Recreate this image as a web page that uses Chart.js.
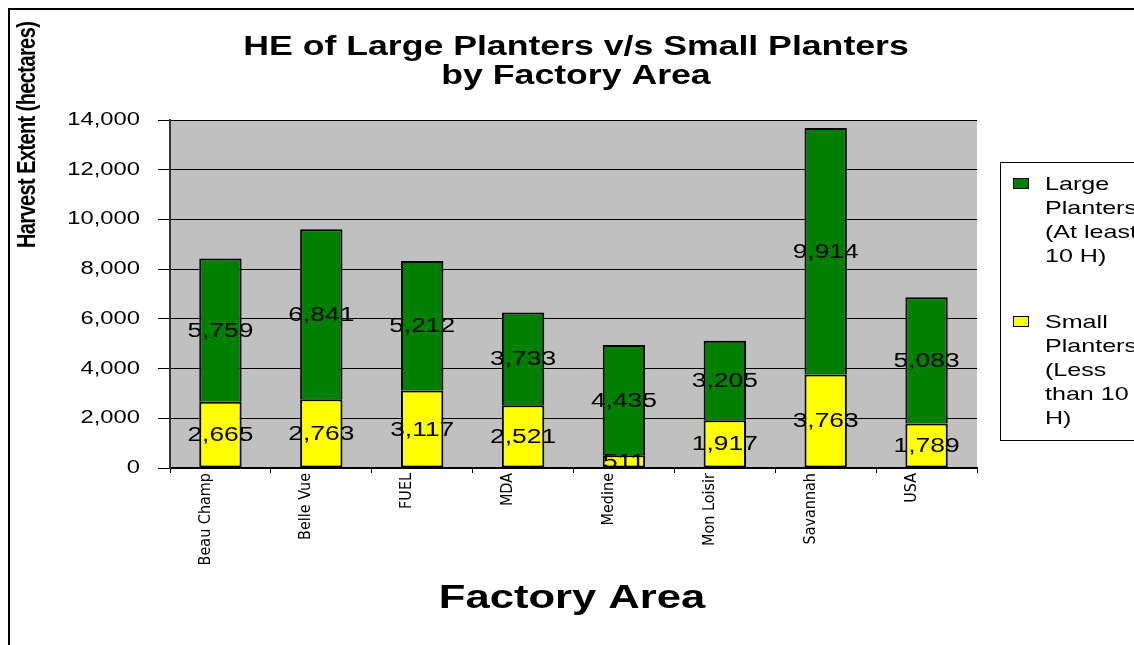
<!DOCTYPE html>
<html>
<head>
<meta charset="utf-8">
<script src="https://cdn.jsdelivr.net/npm/chart.js@4.4.1/dist/chart.umd.min.js"></script>
<style>
html, body { margin: 0; padding: 0; background: #fff; overflow: hidden; }
canvas { display: block; }
</style>
</head>
<body>
<canvas id="heChart" width="1134" height="645"></canvas>
<script>
// chart data
const factoryAreas = ['Beau Champ', 'Belle Vue', 'FUEL', 'MDA', 'Medine', 'Mon Loisir', 'Savannah', 'USA'];
const smallPlanters = [2665, 2763, 3117, 2521, 511, 1917, 3763, 1789];
const largePlanters = [5759, 6841, 5212, 3733, 4435, 3205, 9914, 5083];
const smallLegendLines = ['Small', 'Planters', '(Less', 'than 10', 'H)'];
const largeLegendLines = ['Large', 'Planters', '(At least', '10 H)'];
const titleLines = ['HE of Large Planters v/s Small Planters', 'by Factory Area'];
const xTitle = 'Factory Area';
const yTitle = 'Harvest Extent (hectares)';
const yMax = 14000;
const yStep = 2000;

const FONT = "'Liberation Sans', Arial, sans-serif";
// the original picture is stretched sideways, text included
const STRETCH = 1.32;

function drawStretched(ctx, text, x, y, align) {
    ctx.save();
    ctx.translate(x, y);
    ctx.scale(STRETCH, 1);
    ctx.textAlign = align;
    ctx.fillText(text, 0, 0);
    ctx.restore();
}

const decorations = {
    id: 'decorations',
    beforeDraw(chart) {
        const ctx = chart.ctx;
        const a = chart.chartArea;
        ctx.save();
        ctx.fillStyle = '#fff';
        ctx.fillRect(0, 0, chart.width, chart.height);
        ctx.fillStyle = '#C0C0C0';
        ctx.fillRect(a.left, a.top, a.right - a.left, a.bottom - a.top);
        // outer frame
        ctx.strokeStyle = '#000';
        ctx.lineWidth = 2;
        ctx.beginPath();
        ctx.moveTo(9, chart.height);
        ctx.lineTo(9, 9);
        ctx.lineTo(chart.width, 9);
        ctx.stroke();
        ctx.restore();
    },
    afterLayout(chart) {
        // stretch y tick labels around their right edge
        const ys = chart.scales.y;
        if (!ys._stretched) {
            const orig = ys.drawLabels;
            ys.drawLabels = function(area) {
                const anchor = this.right - this.options.grid.tickLength - this.options.ticks.padding;
                this.ctx.save();
                this.ctx.translate(anchor, 0);
                this.ctx.scale(STRETCH, 1);
                this.ctx.translate(-anchor, 0);
                orig.call(this, area);
                this.ctx.restore();
            };
            ys._stretched = true;
        }
    },
    afterDatasetsDraw(chart) {
        const ctx = chart.ctx;
        ctx.save();
        ctx.fillStyle = '#000';
        ctx.font = '20px ' + FONT;
        ctx.textBaseline = 'middle';
        chart.data.datasets.forEach((ds, i) => {
            chart.getDatasetMeta(i).data.forEach((bar, j) => {
                const mid = (bar.y + bar.base) / 2;
                drawStretched(ctx, ds.data[j].toLocaleString('en-US'), bar.x, mid + 1, 'center');
            });
        });
        ctx.restore();
    },
    afterDraw(chart) {
        const ctx = chart.ctx;
        ctx.save();
        ctx.fillStyle = '#000';
        ctx.textBaseline = 'alphabetic';

        // title
        ctx.font = 'bold 27px ' + FONT;
        drawStretched(ctx, titleLines[0], 576, 55, 'center');
        drawStretched(ctx, titleLines[1], 576, 84, 'center');

        // x axis title
        ctx.font = 'bold 33px ' + FONT;
        drawStretched(ctx, xTitle, 572, 608, 'center');

        // y axis title
        ctx.save();
        ctx.translate(35, 248);
        ctx.scale(STRETCH, 1);
        ctx.rotate(-Math.PI / 2);
        ctx.font = 'bold 20px ' + FONT;
        ctx.letterSpacing = '-0.6px';
        ctx.textAlign = 'left';
        ctx.fillText(yTitle, 0, 0);
        ctx.restore();

        // legend
        ctx.lineWidth = 1;
        ctx.strokeStyle = '#000';
        ctx.strokeRect(1000.5, 162.5, 160, 278);
        const items = [
            { lines: largeLegendLines, color: chart.data.datasets[1].backgroundColor, top: 178 },
            { lines: smallLegendLines, color: chart.data.datasets[0].backgroundColor, top: 316 }
        ];
        ctx.font = '19px ' + FONT;
        items.forEach(it => {
            ctx.fillStyle = it.color;
            ctx.fillRect(1013, it.top, 15, 10);
            ctx.strokeRect(1013.5, it.top + 0.5, 15, 10);
            ctx.fillStyle = '#000';
            it.lines.forEach((line, k) => {
                drawStretched(ctx, line, 1045, it.top + 12 + k * 24, 'left');
            });
        });
        ctx.restore();
    }
};

const ctx = document.getElementById('heChart').getContext('2d');
const heChart = new Chart(ctx, {
    type: 'bar',
    data: {
        labels: factoryAreas,
        datasets: [
            {
                label: 'Small Planters (Less than 10 H)',
                data: smallPlanters,
                backgroundColor: '#FFFF00',
                borderColor: '#000',
                borderWidth: 2,
                borderSkipped: false,
                barPercentage: 0.42,
                categoryPercentage: 1
            },
            {
                label: 'Large Planters (At least 10 H)',
                data: largePlanters,
                backgroundColor: '#008000',
                borderColor: '#000',
                borderWidth: 2,
                borderSkipped: 'start',
                barPercentage: 0.42,
                categoryPercentage: 1
            }
        ]
    },
    options: {
        responsive: false,
        animation: false,
        layout: {
            padding: { top: 120, right: 157, bottom: 0, left: 0 }
        },
        plugins: {
            legend: { display: false },
            title: { display: false },
            tooltip: { enabled: false }
        },
        scales: {
            x: {
                stacked: true,
                afterFit: function(scale) { scale.height = 177; },
                grid: {
                    display: true,
                    drawOnChartArea: false,
                    offset: true,
                    color: '#000',
                    tickLength: 5
                },
                border: { color: '#000', width: 2 },
                ticks: {
                    autoSkip: false,
                    minRotation: 90,
                    maxRotation: 90,
                    padding: 0,
                    labelOffset: -15,
                    color: '#000',
                    font: { family: "'Liberation Sans Narrow', 'DejaVu Sans Condensed', Arial, sans-serif", size: 16 }
                }
            },
            y: {
                stacked: true,
                min: 0,
                max: yMax,
                afterFit: function(scale) { scale.width = 170; },
                grid: {
                    color: '#000',
                    lineWidth: 1,
                    tickLength: 12
                },
                border: { color: '#333', width: 2 },
                ticks: {
                    stepSize: yStep,
                    padding: 18,
                    color: '#000',
                    font: { family: FONT, size: 18 },
                    callback: function(value) {
                        return value.toLocaleString('en-US');
                    }
                }
            }
        }
    },
    plugins: [decorations]
});
</script>
</body>
</html>
